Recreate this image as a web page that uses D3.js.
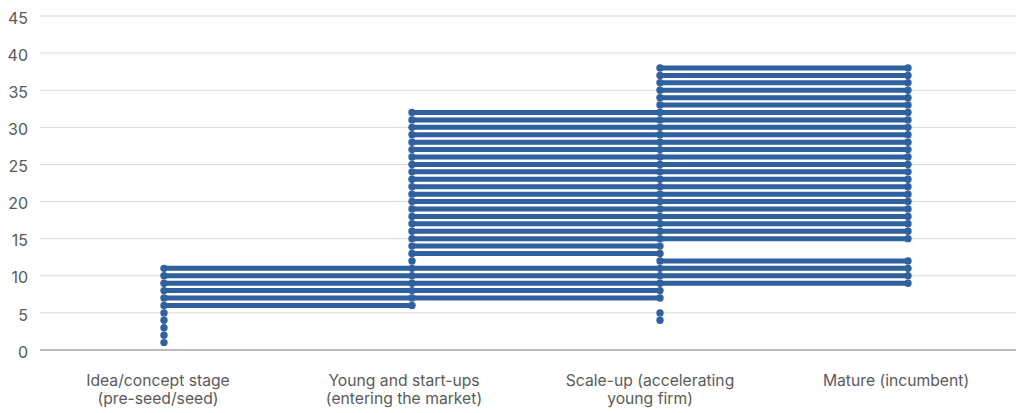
<!DOCTYPE html>
<html>
<head>
<meta charset="utf-8">
<script src="https://cdn.jsdelivr.net/npm/d3@7"></script>
<style>
  html, body { margin: 0; padding: 0; background: #fff; }
  svg { display: block; }
  text { font-family: Inter, "Noto Sans", sans-serif; }
</style>
</head>
<body>
<div id="chart"></div>
<script>
// Stages of firm development shown along the x axis
const stages = ["idea", "young", "scaleup", "mature"];
const stageLabels = [
  ["Idea/concept stage", "(pre-seed/seed)"],
  ["Young and start-ups", "(entering the market)"],
  ["Scale-up (accelerating", "young firm)"],
  ["Mature (incumbent)"]
];

// Each item sits on one level and spans from its first to its last stage
const itemLevel = [1, 2, 3, 4, 5, 6, 7, 8, 9, 10, 11,
                   12, 13, 14, 15, 16, 17, 18, 19, 20, 21, 22, 23, 24, 25, 26, 27, 28, 29, 30, 31, 32,
                   4, 5, 12, 33, 34, 35, 36, 37, 38];
const itemFirst = [0, 0, 0, 0, 0, 0, 0, 0, 0, 0, 0,
                   1, 1, 1, 1, 1, 1, 1, 1, 1, 1, 1, 1, 1, 1, 1, 1, 1, 1, 1, 1, 1,
                   2, 2, 2, 2, 2, 2, 2, 2, 2];
const itemLast  = [0, 0, 0, 0, 0, 1, 2, 2, 3, 3, 3,
                   1, 2, 2, 3, 3, 3, 3, 3, 3, 3, 3, 3, 3, 3, 3, 3, 3, 3, 3, 3, 3,
                   2, 2, 3, 3, 3, 3, 3, 3, 3];

// Y axis ticks
const yTicks = [0, 5, 10, 15, 20, 25, 30, 35, 40, 45];

const width = 1016, height = 413;
const margin = { top: 16, left: 40, bottom: 63 };
const bandStep = 248;
const blue = "#2f61a1";

const svg = d3.select("#chart").append("svg")
  .attr("width", width).attr("height", height);

const y = d3.scaleLinear().domain([0, 45]).range([height - margin.bottom, margin.top]);
const x = d3.scaleBand().domain(stages)
  .range([margin.left, margin.left + bandStep * stages.length]);
const cx = s => x(s) + x.bandwidth() / 2;
// category labels sit on a slightly tighter band
const xLabel = d3.scaleBand().domain(stages).range([35, 1019]);

// gridlines
svg.append("g").selectAll("line")
  .data(yTicks)
  .join("line")
  .attr("x1", margin.left).attr("x2", width)
  .attr("y1", d => y(d)).attr("y2", d => y(d))
  .attr("stroke", d => d === 0 ? "#a6a6a6" : "#d9d9d9")
  .attr("stroke-width", d => d === 0 ? 1.5 : 1);

// y axis labels
const yAxis = d3.axisLeft(y).tickValues(yTicks).tickSize(0).tickPadding(12);
const gy = svg.append("g").attr("transform", `translate(${margin.left},2)`).call(yAxis);
gy.select(".domain").remove();
gy.selectAll("text")
  .attr("fill", "#595959")
  .style("font-size", "16px")
  .style("font-family", "Inter, sans-serif");

// x axis labels
const gx = svg.append("g");
stageLabels.forEach((lines, i) => {
  const t = gx.append("text")
    .attr("x", xLabel(stages[i]) + xLabel.bandwidth() / 2)
    .attr("y", 386)
    .attr("text-anchor", "middle")
    .attr("fill", "#5a5a5a")
    .style("font-size", "15.7px");
  lines.forEach((ln, j) => {
    t.append("tspan")
      .attr("x", xLabel(stages[i]) + xLabel.bandwidth() / 2)
      .attr("dy", j === 0 ? 0 : 17.6)
      .text(ln);
  });
});

const items = itemLevel.map((v, i) => ({ level: v, first: itemFirst[i], last: itemLast[i] }));

// connecting lines
svg.append("g").selectAll("line")
  .data(items.filter(d => d.last > d.first))
  .join("line")
  .attr("x1", d => cx(stages[d.first]))
  .attr("x2", d => cx(stages[d.last]))
  .attr("y1", d => y(d.level))
  .attr("y2", d => y(d.level))
  .attr("stroke", blue)
  .attr("stroke-width", 5);

// points at every stage an item covers
const points = [];
items.forEach(d => {
  for (let s = d.first; s <= d.last; s++) points.push({ level: d.level, stage: stages[s] });
});
svg.append("g").selectAll("circle")
  .data(points)
  .join("circle")
  .attr("cx", d => cx(d.stage))
  .attr("cy", d => y(d.level))
  .attr("r", 3.7)
  .attr("fill", blue);
</script>
</body>
</html>
